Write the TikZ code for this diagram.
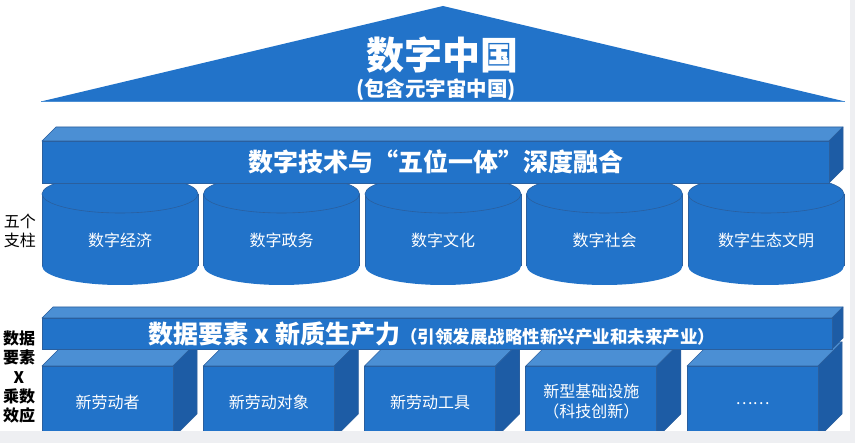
\documentclass[tikz,border=0pt]{standalone}
\usepackage{fontspec}
\setmainfont{Noto Sans CJK SC}
\definecolor{frontc}{HTML}{2273C9}
\definecolor{topc}{HTML}{4B8FD4}
\definecolor{sidec}{HTML}{1D5CA5}
\definecolor{edgec}{HTML}{2A5F9E}
\definecolor{bgray}{HTML}{EEEFF2}
\begin{document}
\begin{tikzpicture}[x=1pt,y=-1pt,
  topface/.style={fill=topc, draw=edgec, line width=0.6pt, line join=round},
  sideface/.style={fill=sidec, draw=edgec, line width=0.6pt, line join=round},
  frontface/.style={fill=frontc, draw=edgec, line width=0.6pt, inner sep=0pt, text=white, align=center},
  cyltext/.style={text=white, font=\fontsize{16}{20}\selectfont},
  boxtext/.style={frontface, font=\fontsize{16}{20}\selectfont, minimum width=131pt, minimum height=72pt},
  sidelabel/.style={text=black, align=center}]
\useasboundingbox (0,0) rectangle (855,443);
\fill[white] (0,0) rectangle (855,443);

% roof
\fill[frontc] (41,101.5) -- (443,6) -- (845,101.5) -- cycle;
\draw[topc, line width=0.8pt] (41,101.5) -- (845,101.5);
\node[text=white, font=\fontsize{38}{42}\selectfont\bfseries] (title) at (442,55) {数字中国};
\node[text=white, font=\fontsize{20.5}{24}\selectfont\bfseries] (subtitle) at (436,90) {(包含元宇宙中国)};

% pillars
\foreach \i/\t in {0/数字经济,1/数字政务,2/数字文化,3/数字社会,4/数字生态文明}{
  \begin{scope}[xshift={\i*161.5pt}]
    \fill[frontc] (42,194) rectangle (198,266);
    \fill[frontc] (120,266) ellipse [x radius=78, y radius=19];
    \draw[edgec, line width=0.5pt] (42,194) -- (42,266);
    \draw[edgec, line width=0.5pt] (198,194) -- (198,266);
    \path[fill=frontc, draw=edgec, line width=0.6pt] (120,194) ellipse [x radius=78, y radius=19];
    \node[cyltext] (c\i) at (120,240) {\t};
  \end{scope}
}

% band 1
\path[topface] (42,141) -- (56,127) -- (843,127) -- (829,141) -- cycle;
\path[sideface] (829,141) -- (843,127) -- (843,169) -- (829,183) -- cycle;
\node[frontface, minimum width=787pt, minimum height=42pt, font=\fontsize{25}{29}\selectfont\bfseries] (band1) at (435.5,162) {数字技术与“五位一体”深度融合};

% boxes
\foreach \i/\t in {0/新劳动者,1/新劳动对象,2/新劳动工具,3/{新型基础设施\\（科技创新）},4/{\raisebox{-5pt}{……}}}{
  \begin{scope}[xshift={\i*161.25pt}]
    \path[topface] (42,366) -- (66,342) -- (197,342) -- (173,366) -- cycle;
    \path[sideface] (173,366) -- (197,342) -- (197,414) -- (173,438) -- cycle;
    \node[boxtext] (b\i) at (107.5,402) {\t};
  \end{scope}
}

% band 2
\path[topface] (42,318) -- (53,307) -- (843,307) -- (832,318) -- cycle;
\path[sideface] (832,318) -- (843,307) -- (843,338) -- (832,349) -- cycle;
\node[frontface, minimum width=790pt, minimum height=31pt] (band2) at (437,333.5) {};
\node[text=white, inner sep=0pt] (band2text) at (432,334) {{\fontsize{25}{28}\selectfont\bfseries 数据要素 x 新质生产力}{\fontsize{17.5}{20}\selectfont\bfseries （引领发展战略性新兴产业和未来产业）}};

% frame strips
\fill[bgray] (0,431) rectangle (855,443);
\fill[bgray] (850,0) rectangle (855,443);

% side labels
\node[sidelabel, font=\fontsize{16}{19}\selectfont] (lab1) at (20,231) {五个\\支柱};
\node[sidelabel, font=\fontsize{16}{19.3}\selectfont\bfseries] (lab2) at (19,377) {数据\\要素\\X\\乘数\\效应};
\end{tikzpicture}
\end{document}
